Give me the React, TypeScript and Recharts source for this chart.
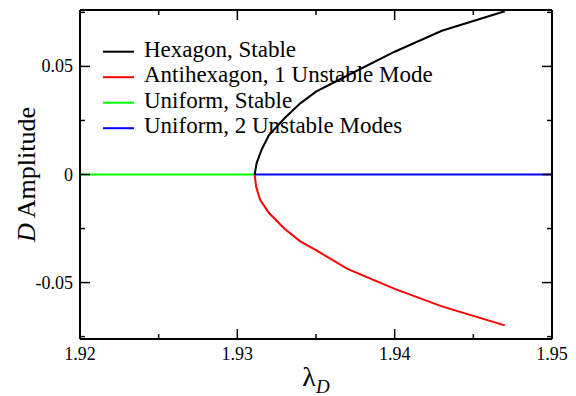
import React from "react";
import { LineChart, Line, XAxis, YAxis, Legend } from "recharts";

// ---- data ----
const hexLambda = [1.9311, 1.93123, 1.93155, 1.932, 1.933, 1.934, 1.935, 1.937, 1.94, 1.943, 1.947];
const hexAmp = [0, 0.0054, 0.0116, 0.0181, 0.026, 0.0329, 0.0383, 0.0458, 0.0568, 0.0665, 0.0755];

const antiLambda = [1.9311, 1.93119, 1.93144, 1.932, 1.933, 1.934, 1.935, 1.937, 1.94, 1.943, 1.947];
const antiAmp = [0, -0.0054, -0.0116, -0.0177, -0.0251, -0.0309, -0.035, -0.0437, -0.0529, -0.061, -0.0698];

const uniformStableLambda = [1.92, 1.9311];
const uniformStableAmp = [0, 0];
const uniformUnstableLambda = [1.9311, 1.95];
const uniformUnstableAmp = [0, 0];

const seriesNames = [
  "Hexagon, Stable",
  "Antihexagon, 1 Unstable Mode",
  "Uniform, Stable",
  "Uniform, 2 Unstable Modes",
];
const seriesColors = ["#000000", "#ff0000", "#00ff00", "#0000ff"];

const xTicks = [1.92, 1.925, 1.93, 1.935, 1.94, 1.945, 1.95];
const yTicks = [-0.075, -0.05, -0.025, 0, 0.025, 0.05, 0.075];
const xDomain = [1.92, 1.95];
const yDomain = [-0.0761, 0.0761];

const FONT = "Liberation Serif, DejaVu Serif, serif";
const fontStyle = (size: number, extra: any = {}) => ({ fontFamily: FONT, fontSize: size, ...extra });

const toPoints = (xs: number[], ys: number[]) => xs.map((x, i) => ({ x, y: ys[i] }));

const isMajorX = (v: number) => Math.abs(v * 100 - Math.round(v * 100)) < 1e-6;
const isMajorY = (v: number) => Math.abs(v / 0.05 - Math.round(v / 0.05)) < 1e-6;
const fmtY = (v: number) => (Math.abs(v) < 1e-12 ? "0" : String(Math.round(v * 1000) / 1000));

const MAJOR = 10;
const MINOR = 5;
const TICK_W = 1.5;

function BottomTick(props: any) {
  const { x, y, payload } = props;
  const v = payload.value;
  const major = isMajorX(v);
  return (
    <g>
      <line x1={x} x2={x} y1={y} y2={y - (major ? MAJOR : MINOR)} stroke="#000" strokeWidth={TICK_W} />
      {major && (
        <text x={x} y={y + 20.5} textAnchor="middle" style={fontStyle(18)} fill="#000">
          {v.toFixed(2)}
        </text>
      )}
    </g>
  );
}

function TopTick(props: any) {
  const { x, y, payload } = props;
  const major = isMajorX(payload.value);
  return <line x1={x} x2={x} y1={y} y2={y + (major ? MAJOR : MINOR)} stroke="#000" strokeWidth={TICK_W} />;
}

function LeftTick(props: any) {
  const { x, y, payload } = props;
  const v = payload.value;
  const major = isMajorY(v);
  return (
    <g>
      <line x1={x} x2={x + (major ? MAJOR : MINOR)} y1={y} y2={y} stroke="#000" strokeWidth={TICK_W} />
      {major && (
        <text x={x - 7} y={y + 6} textAnchor="end" style={fontStyle(18)} fill="#000">
          {fmtY(v)}
        </text>
      )}
    </g>
  );
}

function RightTick(props: any) {
  const { x, y, payload } = props;
  const major = isMajorY(payload.value);
  return <line x1={x} x2={x - (major ? MAJOR : MINOR)} y1={y} y2={y} stroke="#000" strokeWidth={TICK_W} />;
}

function YTitle(props: any) {
  const vb = props.viewBox || { x: 0, y: 0, width: 80, height: 329 };
  const cx = vb.x + 35;
  const cy = vb.y + vb.height / 2;
  return (
    <text
      x={cx}
      y={cy}
      transform={`rotate(-90 ${cx} ${cy})`}
      textAnchor="middle"
      style={fontStyle(26)}
      fill="#000"
    >
      <tspan style={{ fontStyle: "italic" }}>D</tspan>
      <tspan> Amplitude</tspan>
    </text>
  );
}

function XTitle(props: any) {
  const vb = props.viewBox || { x: 80, y: 339, width: 472, height: 57 };
  const cx = vb.x + vb.width / 2;
  const by = vb.y + 47;
  return (
    <text x={cx} y={by} textAnchor="middle" style={fontStyle(28)} fill="#000">
      <tspan>λ</tspan>
      <tspan style={{ fontSize: 19, fontStyle: "italic" }} dy={7}>D</tspan>
    </text>
  );
}

function LegendBox(props: any) {
  const payload = [...(props.payload || [])].sort(
    (a: any, b: any) => seriesNames.indexOf(a.value) - seriesNames.indexOf(b.value)
  );
  return (
    <svg width={380} height={110} style={{ overflow: "visible", display: "block" }}>
      {payload.map((p: any, i: number) => {
        const ry = 16.7 + i * 25.5;
        return (
          <g key={p.value}>
            <line x1={8} x2={39} y1={ry} y2={ry} stroke={p.color} strokeWidth={2} />
            <text x={49} y={ry + 5.2} style={fontStyle(23)} fill="#000">
              {p.value}
            </text>
          </g>
        );
      })}
    </svg>
  );
}

export default function App() {
  const hex = toPoints(hexLambda, hexAmp);
  const anti = toPoints(antiLambda, antiAmp);
  const uniS = toPoints(uniformStableLambda, uniformStableAmp);
  const uniU = toPoints(uniformUnstableLambda, uniformUnstableAmp);
  const axisLine = { stroke: "#000", strokeWidth: 2 };

  return (
    <div style={{ position: "absolute", left: 0, top: 0, background: "#fff" }}>
      <LineChart width={576} height={396} margin={{ top: 0, right: 0, bottom: 0, left: 0 }}>
        <XAxis
          xAxisId="b"
          type="number"
          dataKey="x"
          orientation="bottom"
          domain={xDomain}
          ticks={xTicks}
          interval={0}
          allowDataOverflow
          height={57}
          tickSize={0}
          tickMargin={0}
          tickLine={false}
          axisLine={axisLine}
          tick={<BottomTick />}
          label={<XTitle />}
        />
        <XAxis
          xAxisId="t"
          type="number"
          dataKey="x"
          orientation="top"
          domain={xDomain}
          ticks={xTicks}
          interval={0}
          allowDataOverflow
          height={10}
          tickSize={0}
          tickMargin={0}
          tickLine={false}
          axisLine={axisLine}
          tick={<TopTick />}
        />
        <YAxis
          yAxisId="l"
          type="number"
          orientation="left"
          domain={yDomain}
          ticks={yTicks}
          interval={0}
          allowDataOverflow
          width={80}
          tickSize={0}
          tickMargin={0}
          tickLine={false}
          axisLine={axisLine}
          tick={<LeftTick />}
          label={<YTitle />}
        />
        <YAxis
          yAxisId="r"
          type="number"
          orientation="right"
          domain={yDomain}
          ticks={yTicks}
          interval={0}
          allowDataOverflow
          width={24}
          tickSize={0}
          tickMargin={0}
          tickLine={false}
          axisLine={axisLine}
          tick={<RightTick />}
        />
        <Legend
          layout="vertical"
          align="center"
          verticalAlign="middle"
          wrapperStyle={{ left: 95, top: 35, width: 380, height: 110 }}
          content={<LegendBox />}
        />
        <Line
          xAxisId="b"
          yAxisId="l"
          data={uniS}
          dataKey="y"
          name={seriesNames[2]}
          stroke={seriesColors[2]}
          strokeWidth={2}
          dot={false}
          type="linear"
          isAnimationActive={false}
        />
        <Line
          xAxisId="b"
          yAxisId="l"
          data={uniU}
          dataKey="y"
          name={seriesNames[3]}
          stroke={seriesColors[3]}
          strokeWidth={2}
          dot={false}
          type="linear"
          isAnimationActive={false}
        />
        <Line
          xAxisId="b"
          yAxisId="l"
          data={anti}
          dataKey="y"
          name={seriesNames[1]}
          stroke={seriesColors[1]}
          strokeWidth={2}
          dot={false}
          type="linear"
          isAnimationActive={false}
        />
        <Line
          xAxisId="b"
          yAxisId="l"
          data={hex}
          dataKey="y"
          name={seriesNames[0]}
          stroke={seriesColors[0]}
          strokeWidth={2}
          dot={false}
          type="linear"
          isAnimationActive={false}
        />
      </LineChart>
    </div>
  );
}
